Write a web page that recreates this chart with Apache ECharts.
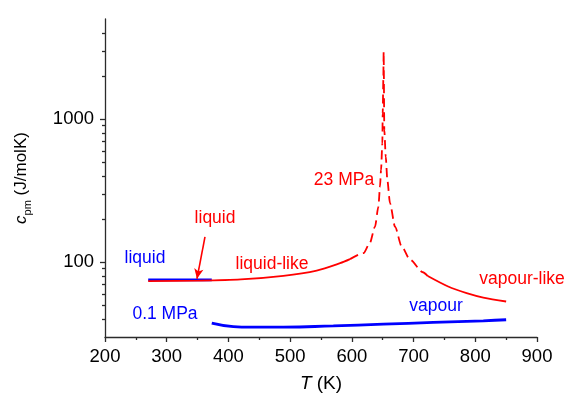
<!DOCTYPE html>
<html>
<head>
<meta charset="utf-8">
<script src="https://cdn.jsdelivr.net/npm/echarts@6/dist/echarts.min.js"></script>
<style>
  html, body { margin: 0; padding: 0; background: #fff; }
  #chart { width: 571px; height: 399px; }
</style>
</head>
<body>
<div id="chart"></div>
<script>
// Isobaric molar heat capacity of water, c_pm (J/molK) vs T (K)

// 23 MPa isobar: liquid-like branch (solid)
var red23LiquidT = [270, 350, 420, 489, 543, 581, 597];
var red23LiquidCp = [73.7, 74.3, 75.8, 80.3, 87.4, 98.4, 105];

// 23 MPa isobar: pseudo-critical region (dashed)
var red23PeakT = [597, 619, 629, 637.5, 643, 645.6, 647.3, 649.4, 650, 651, 651.5,
                  652.6, 654.9, 657.5, 661.8, 669.9, 680.8, 694.3, 715, 723];
var red23PeakCp = [105, 115.6, 135.7, 177, 244, 337, 441, 677, 1096, 1871, 2950,
                   838, 545, 375, 258, 177, 128.5, 104, 85, 80];

// 23 MPa isobar: vapour-like branch (solid)
var red23VapourT = [723, 756, 786, 813, 850];
var red23VapourCp = [80, 67.6, 60.8, 56.6, 53.1];

// 0.1 MPa isobar: liquid water
var blueLiquidT = [270, 373];
var blueLiquidCp = [75.2, 75.2];

// 0.1 MPa isobar: steam
var blueVapourT = [373, 408, 435, 489, 570, 651, 732, 813, 850];
var blueVapourCp = [37.5, 35.5, 35.2, 35.2, 35.9, 36.9, 37.9, 38.9, 39.6];

// Axis ticks
var yMajorTicks = [100, 1000];
var yMinorTicks = [40, 50, 60, 70, 80, 90, 200, 300, 400, 500, 600, 700, 800, 900, 2000, 3000, 4000];

// Text annotations placed in data coordinates
var noteTexts = ['liquid', '0.1 MPa', 'vapour', 'liquid', '23 MPa', 'liquid-like', 'vapour-like'];
var noteT = [264.8, 297.2, 736.4, 378.3, 587.3, 470.6, 875.7];
var noteCp = [107.2, 43.6, 49.5, 203.7, 375, 97.3, 76.5];
var noteColors = ['#0000ff', '#0000ff', '#0000ff', '#ff0000', '#ff0000', '#ff0000', '#ff0000'];

// Arrow pointing at the 23 MPa liquid curve
var arrowFrom = [362, 150];
var arrowTo = [349, 76.5];

function zip(xs, ys) {
  return xs.map(function (x, i) { return [x, ys[i]]; });
}

var FONT = 'Liberation Sans, Arial, Helvetica, sans-serif';
var RED = '#ff0000';
var BLUE = '#0000ff';
var AXIS = '#2b2b2b';

var chart = echarts.init(document.getElementById('chart'), null, { renderer: 'canvas' });

var option = {
  animation: false,
  backgroundColor: '#ffffff',
  textStyle: { fontFamily: FONT },
  grid: { left: 105, right: 34, top: 19, bottom: 62, containLabel: false },
  xAxis: {
    type: 'value',
    min: 200,
    max: 900,
    interval: 100,
    name: '{i|T} (K)',
    nameLocation: 'middle',
    nameGap: 37,
    nameTextStyle: {
      fontSize: 19, color: '#000', fontFamily: FONT,
      rich: { i: { fontStyle: 'italic', fontSize: 19, color: '#000', fontFamily: FONT } }
    },
    axisLine: { show: true, onZero: false, lineStyle: { color: AXIS, width: 1.3 } },
    axisTick: { show: true, length: 5, lineStyle: { color: AXIS, width: 1.3 } },
    minorTick: { show: true, splitNumber: 2, length: 3, lineStyle: { color: AXIS, width: 1.3 } },
    axisLabel: { fontSize: 18.5, color: '#000', margin: 10, fontFamily: FONT },
    splitLine: { show: false }
  },
  yAxis: [
    {
      type: 'log',
      logBase: 10,
      min: 30,
      max: 5000,
      name: '{c|c}{s|pm} (J/molK)',
      nameLocation: 'middle',
      nameGap: 72,
      nameTextStyle: {
        fontSize: 17, color: '#000', fontFamily: FONT, lineHeight: 23,
        rich: {
          c: { fontStyle: 'italic', fontSize: 17, color: '#000', fontFamily: FONT, lineHeight: 23 },
          s: { fontSize: 11, color: '#000', fontFamily: FONT, lineHeight: 11, verticalAlign: 'bottom' }
        }
      },
      axisLine: { show: true, onZero: false, lineStyle: { color: AXIS, width: 1.3 } },
      axisTick: { show: true, length: 5, customValues: yMajorTicks, lineStyle: { color: AXIS, width: 1.3 } },
      axisLabel: {
        fontSize: 18.5, color: '#000', margin: 11, fontFamily: FONT,
        customValues: yMajorTicks,
        formatter: function (v) { return String(Math.round(v)); }
      },
      splitLine: { show: false }
    },
    {
      // companion axis that only carries the logarithmic minor ticks
      type: 'log',
      logBase: 10,
      min: 30,
      max: 5000,
      position: 'left',
      offset: 0,
      axisLine: { show: false },
      axisTick: { show: true, length: 3, customValues: yMinorTicks, lineStyle: { color: AXIS, width: 1.3 } },
      axisLabel: { show: false },
      splitLine: { show: false }
    }
  ],
  series: [
    {
      name: '0.1 MPa liquid',
      type: 'line',
      data: zip(blueLiquidT, blueLiquidCp),
      showSymbol: false,
      symbol: 'none',
      lineStyle: { color: BLUE, width: 2.8 },
      z: 3
    },
    {
      name: '23 MPa liquid-like',
      type: 'line',
      data: zip(red23LiquidT, red23LiquidCp),
      showSymbol: false,
      symbol: 'none',
      smooth: 0.3,
      lineStyle: { color: RED, width: 1.8 },
      z: 4,
      markLine: {
        silent: true,
        symbol: ['none', 'arrow'],
        symbolSize: [7, 10],
        label: { show: false },
        lineStyle: { color: RED, width: 1.6, type: 'solid' },
        emphasis: { disabled: true },
        data: [[{ coord: arrowFrom }, { coord: arrowTo }]]
      }
    },
    {
      name: '23 MPa pseudo-critical',
      type: 'line',
      data: zip(red23PeakT, red23PeakCp),
      showSymbol: false,
      symbol: 'none',
      smooth: 0.25,
      smoothMonotone: 'x',
      lineStyle: { color: RED, width: 1.8, type: [9, 5] },
      z: 4
    },
    {
      name: '23 MPa vapour-like',
      type: 'line',
      data: zip(red23VapourT, red23VapourCp),
      showSymbol: false,
      symbol: 'none',
      smooth: 0.3,
      lineStyle: { color: RED, width: 1.8 },
      z: 4
    },
    {
      name: '0.1 MPa vapour',
      type: 'line',
      data: zip(blueVapourT, blueVapourCp),
      showSymbol: false,
      symbol: 'none',
      smooth: 0.5,
      lineStyle: { color: BLUE, width: 2.8 },
      z: 3
    },
    {
      name: 'notes',
      type: 'scatter',
      symbolSize: 0,
      silent: true,
      clip: false,
      itemStyle: { opacity: 1 },
      data: noteTexts.map(function (t, i) {
        return {
          name: t,
          value: [noteT[i], noteCp[i]],
          label: { color: noteColors[i] }
        };
      }),
      label: {
        show: true,
        position: 'inside',
        formatter: '{b}',
        fontSize: 17.5,
        opacity: 1,
        fontFamily: FONT
      },
      z: 5
    }
  ]
};

chart.setOption(option);
</script>
</body>
</html>
